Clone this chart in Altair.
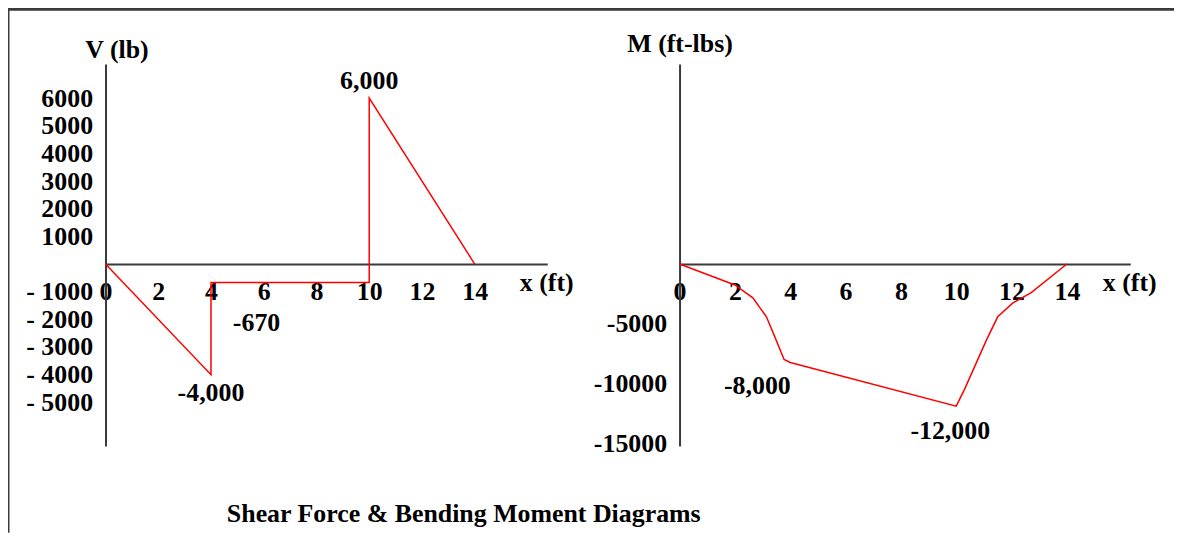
import altair as alt
import pandas as pd

# ---------------- data ----------------
# Shear force diagram V (lb) vs x (ft)
shear_x = [0, 4, 4, 10, 10, 14]
shear_v = [0, -4000, -670, -670, 6000, 0]

# Bending moment diagram M (ft-lbs) vs x (ft)
moment_x = [0, 1.05, 2.0, 2.65, 3.14, 3.44, 3.78, 4.0, 10.0, 10.3, 11.1, 11.5, 12.05, 12.7, 14.0]
moment_m = [0, -920, -1750, -2830, -4420, -6080, -8000, -8250, -11900, -10500, -6330, -4420, -3250, -2420, 0]

# annotations
shear_note_text = ["6,000", "-4,000", "-670"]
shear_note_x = [10, 4, 4]
shear_note_y = [6000, -4000, -670]

moment_note_text = ["-8,000", "-12,000"]
moment_note_x = [4, 10]
moment_note_y = [-8250, -11900]

x_ticks = [0, 2, 4, 6, 8, 10, 12, 14]
shear_ticks = [6000, 5000, 4000, 3000, 2000, 1000, -1000, -2000, -3000, -4000, -5000]
moment_ticks = [-5000, -10000, -15000]

title_text = "Shear Force & Bending Moment Diagrams"

# ---------------- layout / style ----------------
W, H = 1172, 526
FONT = "Liberation Serif"
FS = 26
AX = "#3a3a3a"
RED = "#ff0000"

shear_df = pd.DataFrame({"x": shear_x, "v": shear_v, "order": list(range(len(shear_x)))})
moment_df = pd.DataFrame({"x": moment_x, "m": moment_m, "order": list(range(len(moment_x)))})


def axis_common(**kw):
    base = dict(
        ticks=False, grid=False, domainColor=AX, domainWidth=2,
        labelFont=FONT, labelFontSize=FS, labelFontWeight="bold", labelColor="black",
        labelFlush=False, labelOverlap=False,
        titleFont=FONT, titleFontSize=FS, titleFontWeight="bold", titleColor="black",
        titleAngle=0, titleAlign="center", titleBaseline="middle",
    )
    base.update(kw)
    return alt.Axis(**base)


# ---- left panel scales ----
xL = alt.Scale(domain=[0, 16.75], range=[98, 542], nice=False, zero=False)
yL = alt.Scale(domain=[-6583, 7230], range=[439, 55], nice=False, zero=False)
# ---- right panel scales ----
xR = alt.Scale(domain=[0, 16.29], range=[675, 1128], nice=False, zero=False)
yR = alt.Scale(domain=[-15250, 16750], range=[439, 55], nice=False, zero=False)

shear_line = alt.Chart(shear_df).mark_line(color=RED, strokeWidth=1.5).encode(
    x=alt.X("x:Q", scale=xL, axis=axis_common(
        orient="bottom", offset=-270, values=x_ticks, format="d",
        labelPadding=15, title="x (ft)", titleX=541, titleY=19)),
    y=alt.Y("v:Q", scale=yL, axis=axis_common(
        orient="left", offset=-98, values=shear_ticks, labelPadding=13,
        labelExpr="datum.value < 0 ? '- ' + format(-datum.value, 'd') : format(datum.value, 'd')",
        title="V (lb)", titleX=11, titleY=40)),
    order="order:O",
)


def note(df_text, xs, ys, i, xscale, yscale, xf, yf, **mk):
    d = pd.DataFrame({xf: [xs[i]], yf: [ys[i]], "t": [df_text[i]]})
    return alt.Chart(d).mark_text(font=FONT, fontSize=FS, fontWeight="bold",
                                  color="black", baseline="middle", **mk).encode(
        x=alt.X(f"{xf}:Q", scale=xscale), y=alt.Y(f"{yf}:Q", scale=yscale), text="t:N")


shear_layer = alt.layer(
    shear_line,
    note(shear_note_text, shear_note_x, shear_note_y, 0, xL, yL, "x", "v", align="center", dy=-17),
    note(shear_note_text, shear_note_x, shear_note_y, 1, xL, yL, "x", "v", align="center", dy=18),
    note(shear_note_text, shear_note_x, shear_note_y, 2, xL, yL, "x", "v", align="left", dx=22, dy=41),
)

moment_line = alt.Chart(moment_df).mark_line(color=RED, strokeWidth=1.5).encode(
    x=alt.X("x:Q", scale=xR, axis=axis_common(
        orient="bottom", offset=-270, values=x_ticks, format="d",
        labelPadding=15, title="x (ft)", titleX=1127, titleY=19)),
    y=alt.Y("m:Q", scale=yR, axis=axis_common(
        orient="left", offset=-675, values=moment_ticks, labelPadding=13,
        labelExpr="datum.value < 0 ? '-' + format(-datum.value, 'd') : format(datum.value, 'd')",
        title="M (ft-lbs)", titleX=0, titleY=34)),
    order="order:O",
)

moment_layer = alt.layer(
    moment_line,
    note(moment_note_text, moment_note_x, moment_note_y, 0, xR, yR, "x", "m", align="center", dx=-33, dy=24),
    note(moment_note_text, moment_note_x, moment_note_y, 1, xR, yR, "x", "m", align="center", dx=-6, dy=25),
)

frame_top = alt.Chart(pd.DataFrame({"a": [0]})).mark_rule(color=AX, strokeWidth=3).encode(
    x=alt.value(0), x2=alt.value(W), y=alt.value(0))
frame_left = alt.Chart(pd.DataFrame({"a": [0]})).mark_rule(color=AX, strokeWidth=3).encode(
    x=alt.value(0), y=alt.value(0), y2=alt.value(H))

chart = alt.layer(shear_layer, moment_layer, frame_top, frame_left).resolve_scale(
    x="independent", y="independent"
).resolve_axis(x="independent", y="independent").properties(
    width=W, height=H, padding=0,
    autosize=alt.AutoSizeParams(type="none"),
    background="white",
    title=alt.TitleParams(title_text, orient="bottom", anchor="start", frame="group",
                          offset=-20, dx=220, baseline="middle", font=FONT, fontSize=FS,
                          fontWeight="bold", color="black"),
).configure_view(strokeWidth=0)

chart.save("out.html", embed_options={"renderer": "svg", "actions": False})
